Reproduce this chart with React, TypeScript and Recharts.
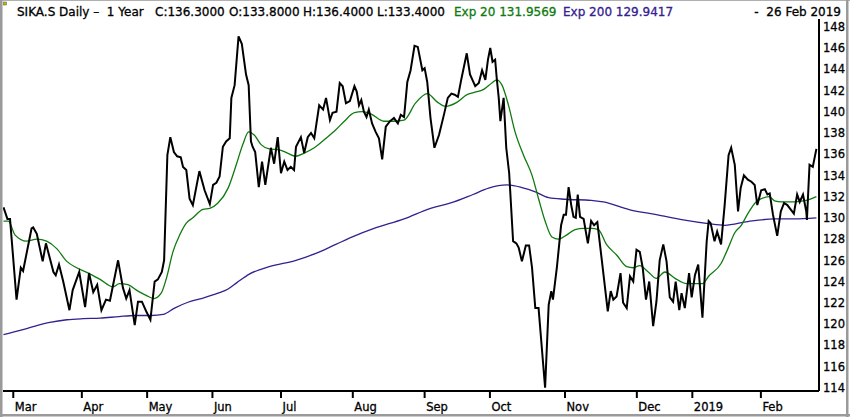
import { Line, LineChart, XAxis, YAxis } from 'recharts';

// trading-day index (0 = 26 Feb 2018) and daily close
const closeDays = [
  0, 1.2, 2, 4, 5.3, 6, 8.6, 9.1, 10.2, 12, 13, 15.3, 16, 17, 18.3, 20.2, 21.2, 23.2, 25, 26.2, 27.5, 28.7, 30, 31.4, 32.6,
  35.1, 36.6, 37.6, 38.6, 40.2, 41.2, 42.4, 43.7, 45, 46.3, 47.3, 48.5, 49.2, 50.2, 51.1, 52.2, 53.2, 54.3, 55, 56, 57, 58,
  60, 61.6, 63.2, 64.2, 65.2, 66.2, 67.2, 68.2, 69.3, 69.8, 70.8, 72, 73, 73.8, 74.3, 75.1, 75.8, 76.3, 77.1, 78.2, 79.2,
  80.2, 81.9, 82.9, 84, 85, 86, 87, 88, 89, 89.6, 91.1, 92.1, 93.2, 94.2, 95.2, 96.7, 97.9, 98.8, 100, 100.8, 102, 103,
  103.9, 104.9, 106.1, 107.5, 108.2, 108.9, 109.6, 110.4, 111.2, 111.9, 112.9, 114, 115, 116, 117.1, 118.4, 119.6, 120.8,
  121.7, 122.7, 123.7, 124.7, 125.9, 126.9, 128.3, 129, 129.8, 130.8, 132, 133.4, 134.9, 136.1, 137.2, 138.2, 139.2, 140.2,
  141.9, 142.9, 144.5, 145.6, 146.6, 147.6, 148.4, 149.1, 149.8, 150.6, 151.1, 151.7, 152.2, 153.2, 154, 154.9, 156.1,
  157.1, 157.8, 158.8, 160, 161, 161.9, 162.9, 163.9, 165.9, 167, 167.8, 168.3, 169.5, 170.8, 171.6, 172.3, 173.1, 173.9,
  174.6, 175.3, 175.9, 176.6, 177.7, 179, 180, 180.9, 181.9, 183.2, 185.1, 186, 186.8, 187.8, 189, 189.8, 190.9, 191.9,
  192.9, 193.9, 194.9, 195.8, 196.8, 197.8, 199, 200, 201, 202.1, 203.1, 204.1, 205.1, 205.9, 207, 207.7, 208.7, 210,
  210.8, 211.8, 212.8, 214.1, 215.4, 216, 216.6, 217.8, 218.6, 219.8, 220.9, 222.1, 222.9, 224, 225, 225.8, 226.8, 228,
  229.1, 230.1, 230.9, 232.1, 233.2, 234, 234.7, 235.7, 237, 238.1, 239.1, 240.1, 241.1, 242.1, 243.1, 243.9, 244.9,
  245.9, 246.1, 246.9, 247.9, 249,
];
const closeValues = [
  131.0, 129.9, 129.9, 122.3, 125.3, 125.0, 129.0, 129.1, 128.5, 125.9, 127.6, 124.9, 124.6, 125.6, 124.0, 121.3, 123.2,
  124.9, 121.6, 124.8, 123.0, 123.7, 121.3, 122.3, 122.2, 126.0, 123.4, 122.4, 123.2, 119.9, 122.1, 122.1, 121.2, 120.4,
  124.0, 124.2, 124.9, 126.0, 135.9, 137.6, 136.2, 135.8, 135.7, 134.8, 134.5, 131.8, 131.2, 134.4, 132.6, 131.3, 133.1,
  133.3, 133.9, 136.7, 137.2, 137.5, 141.3, 142.5, 147.1, 146.4, 144.6, 143.5, 142.5, 137.2, 136.7, 136.2, 132.9, 135.3,
  133.1, 136.6, 135.1, 137.6, 134.2, 135.3, 134.5, 134.8, 134.5, 136.7, 137.6, 136.1, 137.6, 138.0, 137.5, 140.6, 140.2,
  141.3, 139.2, 139.9, 140.0, 142.7, 142.4, 140.8, 141.0, 142.4, 141.9, 140.6, 141.1, 140.0, 139.5, 140.2, 138.9, 138.1,
  137.5, 135.5, 138.6, 139.1, 139.4, 138.9, 139.7, 139.5, 142.8, 143.9, 146.2, 146.1, 143.9, 144.1, 142.8, 139.4, 136.6,
  137.8, 139.7, 141.3, 141.7, 141.6, 141.4, 143.0, 145.5, 143.5, 142.4, 142.7, 143.9, 143.0, 144.9, 146.0, 144.7, 144.9,
  143.1, 141.3, 139.1, 141.3, 136.6, 134.2, 127.8, 127.6, 127.2, 125.9, 127.4, 127.4, 125.3, 121.5, 121.5, 114.0, 121.8,
  123.1, 122.3, 125.3, 129.3, 130.3, 130.3, 132.9, 131.2, 130.1, 130.0, 132.2, 130.1, 129.9, 127.6, 129.7, 129.3, 129.6,
  126.2, 121.2, 123.1, 122.3, 122.6, 124.8, 122.0, 121.5, 124.5, 124.0, 127.0, 126.8, 125.3, 122.3, 124.0, 119.8, 122.1,
  126.0, 127.5, 125.9, 122.5, 122.1, 124.0, 121.3, 122.9, 121.5, 124.8, 122.5, 124.6, 125.6, 120.6, 127.8, 129.7, 129.5,
  127.8, 128.7, 127.5, 131.2, 135.9, 136.6, 135.0, 130.6, 132.8, 134.0, 133.6, 133.4, 133.1, 131.2, 132.6, 132.7, 132.2,
  132.3, 130.3, 128.3, 130.6, 131.4, 131.2, 130.8, 130.4, 132.2, 131.5, 132.2, 130.6, 129.8, 135.0, 134.8, 136.5,
];

// Exp 20 (green)
const ema20Days = [
  0, 1.5, 3.5, 7.1, 10.2, 13.2, 16.3, 19.4, 22.4, 26, 29.6, 33.6, 35.5, 38.1, 41.2, 43.7, 46.1, 48.3, 49.9, 51.9, 54, 56,
  58, 61.1, 63.2, 65.7, 68.8, 71.3, 73.3, 75.1, 76.8, 78.9, 81.4, 84.5, 87, 89.4, 92.1, 95.2, 98.8, 101.8, 104.4, 107.5,
  109.9, 112.5, 116.5, 119.6, 122.7, 126.2, 129.8, 132.9, 135.4, 139, 142, 144, 147.1, 149.6, 151.1, 152.7, 154.7, 156.7,
  159.3, 161.9, 163.9, 165.9, 168, 170, 172.6, 175.1, 177.7, 180, 182.2, 184.7, 187.8, 190.9, 192.9, 194.9, 197.5, 200,
  202.6, 205.7, 209.3, 211.8, 214.1, 216, 219.8, 221.9, 224, 226, 228, 230.5, 232.1, 234.5, 236.2, 238.3, 241.9, 245,
  246.5, 249,
];
const ema20Values = [
  129.7, 129.7, 128.4, 127.8, 128.0, 127.8, 127.1, 125.9, 125.3, 124.8, 124.2, 123.5, 123.8, 123.7, 123.1, 122.7, 122.4,
  122.9, 124.3, 126.8, 128.4, 129.5, 130.0, 130.8, 130.9, 131.4, 132.8, 135.0, 136.9, 138.1, 137.8, 136.9, 136.5, 136.4,
  136.1, 135.8, 136.1, 136.6, 137.5, 138.3, 139.1, 139.9, 140.0, 139.8, 139.1, 139.1, 139.2, 140.8, 141.7, 140.9, 140.5,
  140.9, 141.6, 141.8, 142.1, 142.7, 143.0, 142.5, 140.6, 138.1, 135.9, 134.0, 131.8, 129.7, 128.2, 128.0, 128.4, 128.9,
  129.0, 129.0, 128.9, 127.5, 126.5, 125.4, 125.3, 125.5, 124.9, 124.3, 124.9, 124.3, 123.8, 123.8, 123.8, 124.5, 125.7,
  127.1, 128.6, 129.3, 130.4, 131.5, 131.8, 132.0, 131.6, 131.5, 131.5, 131.6, 131.7, 132.0,
];

// Exp 200 (purple)
const ema200Days = [
  0, 5.1, 9.1, 14.2, 19.4, 24.4, 29.6, 35.4, 40.2, 45.3, 48.9, 52.4, 56.5, 60.6, 65.7, 68.8, 71.5, 75.3, 81.4, 89.6, 95.7,
  101.8, 107.6, 113.5, 122.7, 130.8, 137, 143.8, 148.6, 154.2, 158.8, 162.9, 167, 172.1, 180, 183.7, 191.9, 200, 208.2,
  215.9, 220.9, 228, 236.2, 242.1, 249,
];
const ema200Values = [
  119.0, 119.4, 119.75, 120.15, 120.4, 120.5, 120.55, 120.7, 120.8, 120.8, 120.9, 121.5, 122.05, 122.4, 122.9, 123.3, 123.9,
  124.7, 125.4, 126.0, 126.65, 127.5, 128.3, 129.0, 129.9, 130.9, 131.4, 132.2, 132.8, 133.1, 132.85, 132.45, 131.9, 131.75,
  131.65, 131.5, 130.75, 130.3, 129.8, 129.45, 129.3, 129.65, 129.9, 129.9, 130.0,
];

const monthTickDays = [3, 24, 44, 64, 85, 107, 129, 149, 172, 194, 211, 232];
const monthTickLabels = ['Mar', 'Apr', 'May', 'Jun', 'Jul', 'Aug', 'Sep', 'Oct', 'Nov', 'Dec', '2019', 'Feb'];
const priceTicks = [114, 116, 118, 120, 122, 124, 126, 128, 130, 132, 134, 136, 138, 140, 142, 144, 146, 148];

const toPoints = (days: number[], values: number[]) => days.map((day, i) => ({ day, value: values[i] }));
const closeData = toPoints(closeDays, closeValues);
const ema20Data = toPoints(ema20Days, ema20Values);
const ema200Data = toPoints(ema200Days, ema200Values);

const FONT = '"DejaVu Sans", Verdana, sans-serif';
const GREEN = '#0f7a0f';
const PURPLE = '#34208f';

function MonthTick({ x, payload }: any) {
  const i = monthTickDays.indexOf(payload.value);
  return (
    <text x={x + 1.5} y={411} textAnchor="start" fontFamily={FONT} fontSize={11.5} fill="#000" stroke="#000" strokeWidth={0.3}>
      {monthTickLabels[i]}
    </text>
  );
}

function PriceTick({ y, payload }: any) {
  return (
    <text x={823} y={y + 4.2} textAnchor="start" fontFamily={FONT} fontSize={11.5} fill="#000" stroke="#000" strokeWidth={0.3}>
      {payload.value}
    </text>
  );
}

export default function App() {
  const hdr = { fontFamily: FONT, fontSize: 12, strokeWidth: 0.3 } as const;
  return (
    <div style={{ position: 'absolute', left: 0, top: 0, width: 850, height: 417, background: '#fff' }}>
      <LineChart width={850} height={417} margin={{ top: 19, right: 0, bottom: 0, left: 3 }}>
        <XAxis
          dataKey="day"
          type="number"
          domain={[-0.15, 249.8]}
          allowDataOverflow
          ticks={monthTickDays}
          interval={0}
          height={26}
          axisLine={{ stroke: '#000', strokeWidth: 2 }}
          tickLine={{ stroke: '#000', strokeWidth: 2 }}
          tickSize={7}
          tick={<MonthTick />}
        />
        <YAxis
          orientation="right"
          type="number"
          domain={[113.69, 148.73]}
          allowDataOverflow
          ticks={priceTicks}
          interval={0}
          width={31}
          axisLine={{ stroke: '#000', strokeWidth: 2 }}
          tickLine={false}
          tick={<PriceTick />}
        />
        <Line data={ema200Data} dataKey="value" type="monotone" stroke={PURPLE} strokeWidth={1.3} dot={false} isAnimationActive={false} />
        <Line data={ema20Data} dataKey="value" type="monotone" stroke={GREEN} strokeWidth={1.3} dot={false} isAnimationActive={false} />
        <Line data={closeData} dataKey="value" type="linear" stroke="#000" strokeWidth={2} dot={false} isAnimationActive={false} />
      </LineChart>
      <svg width={850} height={417} style={{ position: 'absolute', left: 0, top: 0, pointerEvents: 'none' }}>
        <rect x={0} y={0} width={850} height={1} fill="#b0b0b0" />
        <rect x={0} y={0} width={2.5} height={417} fill="#9a9a9a" />
        <rect x={846} y={0} width={2.5} height={417} fill="#9a9a9a" />
        <rect x={0} y={414} width={850} height={2.5} fill="#9a9a9a" />
        <rect x={3.5} y={2} width={3} height={3} fill="#c8b400" stroke="#555" strokeWidth={0.5} />
        <text x={17} y={16} {...hdr} fill="#000" stroke="#000" style={{ whiteSpace: 'pre' }}>SIKA.S Daily –  1 Year</text>
        <text x={155} y={16} {...hdr} fill="#000" stroke="#000">C:136.3000</text>
        <text x={229} y={16} {...hdr} fill="#000" stroke="#000">O:133.8000</text>
        <text x={303} y={16} {...hdr} fill="#000" stroke="#000">H:136.4000</text>
        <text x={377} y={16} {...hdr} fill="#000" stroke="#000">L:133.4000</text>
        <text x={454} y={16} {...hdr} fill={GREEN} stroke={GREEN}>Exp 20 131.9569</text>
        <text x={563} y={16} {...hdr} fill={PURPLE} stroke={PURPLE}>Exp 200 129.9417</text>
        <text x={841} y={16} textAnchor="end" {...hdr} fill="#000" stroke="#000" style={{ whiteSpace: 'pre' }}>-  26 Feb 2019</text>
      </svg>
    </div>
  );
}
